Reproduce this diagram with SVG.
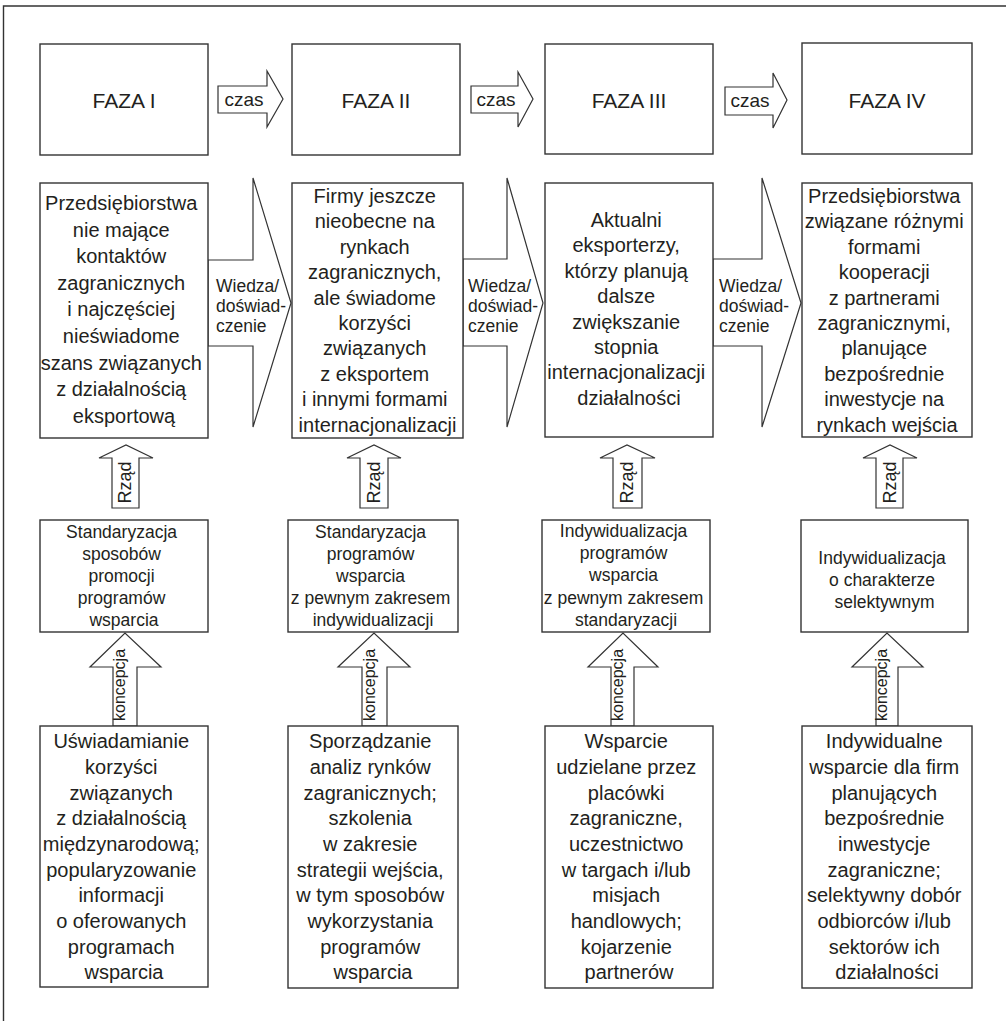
<svg xmlns="http://www.w3.org/2000/svg" width="1006" height="1021" viewBox="0 0 1006 1021">
  <style>
    .box { fill: #ffffff; stroke: #333333; stroke-width: 1.4; }
    .arr { fill: #ffffff; stroke: #333333; stroke-width: 1.2; stroke-linejoin: miter; }
    .frame { fill: none; stroke: #333333; stroke-width: 1.4; }
    text { font-family: "Liberation Sans", Arial, sans-serif; fill: #231f20; }
    .faza { font-size: 21px; text-anchor: middle; }
    .czas { font-size: 19px; text-anchor: middle; }
    .main { font-size: 20px; text-anchor: middle; }
    .prog { font-size: 17.5px; text-anchor: middle; }
    .wd { font-size: 17.5px; }
    .rz { font-size: 18px; text-anchor: middle; }
    .kc { font-size: 16px; text-anchor: middle; }
  </style>

  <!-- outer frame (top and left edges) -->
  <path class="frame" d="M3.5 1021 V6 H1006"/>

  <!-- connectors: time arrows, knowledge arrows, government and concept arrows -->
  <g id="connectors">
    <polygon class="arr" points="218,86 267,86 267,71 283,99 267,127 267,113 218,113"/>
    <polygon class="arr" points="471,86 518,86 518,72 533,99 518,127 518,113 471,113"/>
    <polygon class="arr" points="725,87 773,87 773,73 787,100 773,128 773,115 725,115"/>
    <text class="czas" x="244" y="106">czas</text>
    <text class="czas" x="496" y="106">czas</text>
    <text class="czas" x="750" y="107">czas</text>

    <polygon class="arr" points="208,260 253,260 253,178 291,303 253,427 253,346 208,346"/>
    <polygon class="arr" points="463,259 507,259 507,178 543,303 507,427 507,346 463,346"/>
    <polygon class="arr" points="713,259 762,259 762,178 801,303 762,427 762,346 713,346"/>
    <text class="wd" x="216" y="291.5">Wiedza/</text>
    <text class="wd" x="216" y="311.5">doświad-</text>
    <text class="wd" x="216" y="331.5">czenie</text>
    <text class="wd" x="468" y="291.5">Wiedza/</text>
    <text class="wd" x="468" y="311.5">doświad-</text>
    <text class="wd" x="468" y="331.5">czenie</text>
    <text class="wd" x="719" y="291.5">Wiedza/</text>
    <text class="wd" x="719" y="311.5">doświad-</text>
    <text class="wd" x="719" y="331.5">czenie</text>

    <polygon class="arr" points="112,508 112,458 99,458 126,445 153,458 139,458 139,508"/>
    <polygon class="arr" points="360,508 360,458 347,458 374,445 401,458 388,458 388,508"/>
    <polygon class="arr" points="613,508 613,458 600,458 627,445 655,458 642,458 642,508"/>
    <polygon class="arr" points="876,508 876,458 863,458 890,445 917,458 903,458 903,508"/>
    <text class="rz" transform="translate(131,482.5) rotate(-90)">Rząd</text>
    <text class="rz" transform="translate(379.5,482.5) rotate(-90)">Rząd</text>
    <text class="rz" transform="translate(633,482.5) rotate(-90)">Rząd</text>
    <text class="rz" transform="translate(895.5,482.5) rotate(-90)">Rząd</text>

    <polygon class="arr" points="113,726 113,667 90,667 125,633 161,667 137,667 137,726"/>
    <polygon class="arr" points="362,726 362,667 338,667 374,633 410,667 387,667 387,726"/>
    <polygon class="arr" points="611,726 611,667 588,667 623,633 658,667 634,667 634,726"/>
    <polygon class="arr" points="876,726 876,667 852,667 887,633 923,667 898,667 898,726"/>
    <text class="kc" transform="translate(125,685) rotate(-90)">koncepcja</text>
    <text class="kc" transform="translate(374.5,685) rotate(-90)">koncepcja</text>
    <text class="kc" transform="translate(622.5,685) rotate(-90)">koncepcja</text>
    <text class="kc" transform="translate(887,685) rotate(-90)">koncepcja</text>
  </g>

  <!-- phase headers -->
  <g id="faza1"><rect class="box" x="40" y="44" width="168" height="111"/><text class="faza" x="124" y="108">FAZA I</text></g>
  <g id="faza2"><rect class="box" x="292" y="44" width="168" height="111"/><text class="faza" x="376" y="108">FAZA II</text></g>
  <g id="faza3"><rect class="box" x="545" y="44" width="168" height="110"/><text class="faza" x="629" y="108">FAZA III</text></g>
  <g id="faza4"><rect class="box" x="802" y="43" width="170" height="111"/><text class="faza" x="887" y="108">FAZA IV</text></g>

  <!-- company profiles per phase -->
  <g id="firmy1">
    <rect class="box" x="40" y="183" width="168" height="255"/>
    <text class="main">
      <tspan x="124" y="210">Przedsiębiorstwa</tspan>
      <tspan x="124" y="236.6">nie mające</tspan>
      <tspan x="124" y="263.2">kontaktów</tspan>
      <tspan x="124" y="289.8">zagranicznych</tspan>
      <tspan x="124" y="316.4">i najczęściej</tspan>
      <tspan x="124" y="343">nieświadome</tspan>
      <tspan x="124" y="369.6">szans związanych</tspan>
      <tspan x="124" y="396.2">z działalnością</tspan>
      <tspan x="124" y="422.8">eksportową</tspan>
    </text>
  </g>
  <g id="firmy2">
    <rect class="box" x="292" y="183" width="171" height="255"/>
    <text class="main">
      <tspan x="377.5" y="203">Firmy jeszcze</tspan>
      <tspan x="377.5" y="228.4">nieobecne na</tspan>
      <tspan x="377.5" y="253.8">rynkach</tspan>
      <tspan x="377.5" y="279.2">zagranicznych,</tspan>
      <tspan x="377.5" y="304.6">ale świadome</tspan>
      <tspan x="377.5" y="330">korzyści</tspan>
      <tspan x="377.5" y="355.4">związanych</tspan>
      <tspan x="377.5" y="380.8">z eksportem</tspan>
      <tspan x="377.5" y="406.2">i innymi formami</tspan>
      <tspan x="377.5" y="431.6">internacjonalizacji</tspan>
    </text>
  </g>
  <g id="firmy3">
    <rect class="box" x="545" y="183" width="168" height="254"/>
    <text class="main">
      <tspan x="629" y="227">Aktualni</tspan>
      <tspan x="629" y="252.4">eksporterzy,</tspan>
      <tspan x="629" y="277.8">którzy planują</tspan>
      <tspan x="629" y="303.2">dalsze</tspan>
      <tspan x="629" y="328.6">zwiększanie</tspan>
      <tspan x="629" y="354">stopnia</tspan>
      <tspan x="629" y="379.4">internacjonalizacji</tspan>
      <tspan x="629" y="404.8">działalności</tspan>
    </text>
  </g>
  <g id="firmy4">
    <rect class="box" x="802" y="183" width="170" height="254"/>
    <text class="main">
      <tspan x="887" y="203">Przedsiębiorstwa</tspan>
      <tspan x="887" y="228.4">związane różnymi</tspan>
      <tspan x="887" y="253.8">formami</tspan>
      <tspan x="887" y="279.2">kooperacji</tspan>
      <tspan x="887" y="304.6">z partnerami</tspan>
      <tspan x="887" y="330">zagranicznymi,</tspan>
      <tspan x="887" y="355.4">planujące</tspan>
      <tspan x="887" y="380.8">bezpośrednie</tspan>
      <tspan x="887" y="406.2">inwestycje na</tspan>
      <tspan x="887" y="431.6">rynkach wejścia</tspan>
    </text>
  </g>

  <!-- support programme approach -->
  <g id="program1">
    <rect class="box" x="40" y="520" width="168" height="112"/>
    <text class="prog">
      <tspan x="124" y="537.5">Standaryzacja</tspan>
      <tspan x="124" y="559.7">sposobów</tspan>
      <tspan x="124" y="581.9">promocji</tspan>
      <tspan x="124" y="604.1">programów</tspan>
      <tspan x="124" y="626.3">wsparcia</tspan>
    </text>
  </g>
  <g id="program2">
    <rect class="box" x="288" y="520" width="170" height="112"/>
    <text class="prog">
      <tspan x="373" y="537.5">Standaryzacja</tspan>
      <tspan x="373" y="559.7">programów</tspan>
      <tspan x="373" y="581.9">wsparcia</tspan>
      <tspan x="373" y="604.1">z pewnym zakresem</tspan>
      <tspan x="373" y="626.3">indywidualizacji</tspan>
    </text>
  </g>
  <g id="program3">
    <rect class="box" x="542" y="520" width="168" height="112"/>
    <text class="prog">
      <tspan x="626" y="537">Indywidualizacja</tspan>
      <tspan x="626" y="559.2">programów</tspan>
      <tspan x="626" y="581.4">wsparcia</tspan>
      <tspan x="626" y="603.6">z pewnym zakresem</tspan>
      <tspan x="626" y="625.8">standaryzacji</tspan>
    </text>
  </g>
  <g id="program4">
    <rect class="box" x="801" y="520" width="167" height="112"/>
    <text class="prog">
      <tspan x="884.5" y="564">Indywidualizacja</tspan>
      <tspan x="884.5" y="586.2">o charakterze</tspan>
      <tspan x="884.5" y="608.4">selektywnym</tspan>
    </text>
  </g>

  <!-- support activities -->
  <g id="dzialania1">
    <rect class="box" x="40" y="726" width="168" height="261"/>
    <text class="main">
      <tspan x="124" y="748.3">Uświadamianie</tspan>
      <tspan x="124" y="774">korzyści</tspan>
      <tspan x="124" y="799.6">związanych</tspan>
      <tspan x="124" y="825.3">z działalnością</tspan>
      <tspan x="124" y="851">międzynarodową;</tspan>
      <tspan x="124" y="876.6">popularyzowanie</tspan>
      <tspan x="124" y="902.3">informacji</tspan>
      <tspan x="124" y="928">o oferowanych</tspan>
      <tspan x="124" y="953.7">programach</tspan>
      <tspan x="124" y="979.3">wsparcia</tspan>
    </text>
  </g>
  <g id="dzialania2">
    <rect class="box" x="288" y="726" width="170" height="262"/>
    <text class="main">
      <tspan x="373" y="748.3">Sporządzanie</tspan>
      <tspan x="373" y="774">analiz rynków</tspan>
      <tspan x="373" y="799.6">zagranicznych;</tspan>
      <tspan x="373" y="825.3">szkolenia</tspan>
      <tspan x="373" y="851">w zakresie</tspan>
      <tspan x="373" y="876.6">strategii wejścia,</tspan>
      <tspan x="373" y="902.3">w tym sposobów</tspan>
      <tspan x="373" y="928">wykorzystania</tspan>
      <tspan x="373" y="953.7">programów</tspan>
      <tspan x="373" y="979.3">wsparcia</tspan>
    </text>
  </g>
  <g id="dzialania3">
    <rect class="box" x="545" y="726" width="168" height="262"/>
    <text class="main">
      <tspan x="629" y="748.3">Wsparcie</tspan>
      <tspan x="629" y="774">udzielane przez</tspan>
      <tspan x="629" y="799.6">placówki</tspan>
      <tspan x="629" y="825.3">zagraniczne,</tspan>
      <tspan x="629" y="851">uczestnictwo</tspan>
      <tspan x="629" y="876.6">w targach i/lub</tspan>
      <tspan x="629" y="902.3">misjach</tspan>
      <tspan x="629" y="928">handlowych;</tspan>
      <tspan x="629" y="953.7">kojarzenie</tspan>
      <tspan x="629" y="979.3">partnerów</tspan>
    </text>
  </g>
  <g id="dzialania4">
    <rect class="box" x="802" y="726" width="170" height="262"/>
    <text class="main">
      <tspan x="887" y="748.3">Indywidualne</tspan>
      <tspan x="887" y="774">wsparcie dla firm</tspan>
      <tspan x="887" y="799.6">planujących</tspan>
      <tspan x="887" y="825.3">bezpośrednie</tspan>
      <tspan x="887" y="851">inwestycje</tspan>
      <tspan x="887" y="876.6">zagraniczne;</tspan>
      <tspan x="887" y="902.3">selektywny dobór</tspan>
      <tspan x="887" y="928">odbiorców i/lub</tspan>
      <tspan x="887" y="953.7">sektorów ich</tspan>
      <tspan x="887" y="979.3">działalności</tspan>
    </text>
  </g>
</svg>
